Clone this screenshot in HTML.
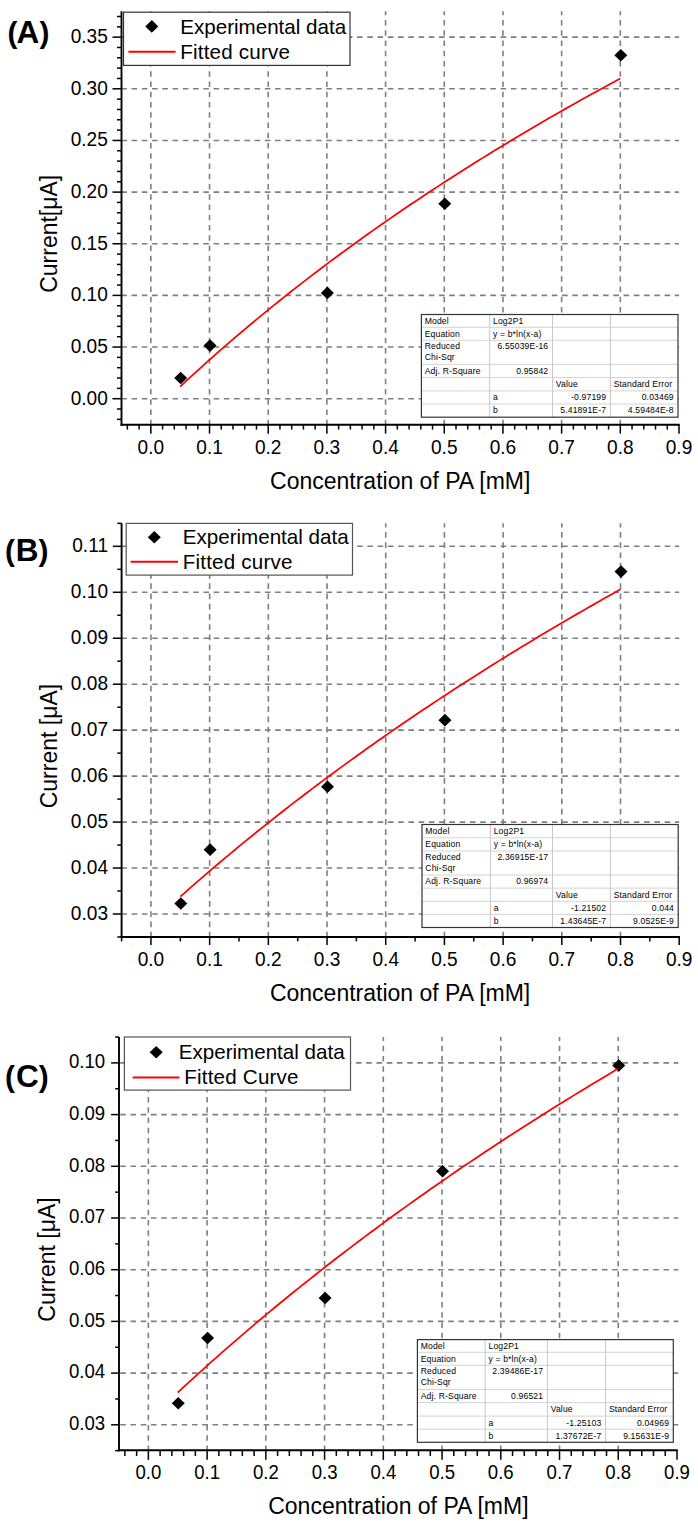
<!DOCTYPE html>
<html><head><meta charset="utf-8"><style>
html,body{margin:0;padding:0;background:#fff;}
svg{display:block;}
svg text{font-family:"Liberation Sans", sans-serif;fill:#000;}
</style></head><body>
<svg width="698" height="1524" viewBox="0 0 698 1524">
<rect width="698" height="1524" fill="#fff"/>
<line x1="150.84" y1="11.32" x2="150.84" y2="424.75" stroke="#7f7f7f" stroke-width="1.6" stroke-dasharray="5.6 4.65" stroke-dashoffset="1.55"/>
<line x1="209.53" y1="11.32" x2="209.53" y2="424.75" stroke="#7f7f7f" stroke-width="1.6" stroke-dasharray="5.6 4.65" stroke-dashoffset="1.55"/>
<line x1="268.21" y1="11.32" x2="268.21" y2="424.75" stroke="#7f7f7f" stroke-width="1.6" stroke-dasharray="5.6 4.65" stroke-dashoffset="1.55"/>
<line x1="326.89" y1="11.32" x2="326.89" y2="424.75" stroke="#7f7f7f" stroke-width="1.6" stroke-dasharray="5.6 4.65" stroke-dashoffset="1.55"/>
<line x1="385.58" y1="11.32" x2="385.58" y2="424.75" stroke="#7f7f7f" stroke-width="1.6" stroke-dasharray="5.6 4.65" stroke-dashoffset="1.55"/>
<line x1="444.26" y1="11.32" x2="444.26" y2="424.75" stroke="#7f7f7f" stroke-width="1.6" stroke-dasharray="5.6 4.65" stroke-dashoffset="1.55"/>
<line x1="502.95" y1="11.32" x2="502.95" y2="424.75" stroke="#7f7f7f" stroke-width="1.6" stroke-dasharray="5.6 4.65" stroke-dashoffset="1.55"/>
<line x1="561.63" y1="11.32" x2="561.63" y2="424.75" stroke="#7f7f7f" stroke-width="1.6" stroke-dasharray="5.6 4.65" stroke-dashoffset="1.55"/>
<line x1="620.31" y1="11.32" x2="620.31" y2="424.75" stroke="#7f7f7f" stroke-width="1.6" stroke-dasharray="5.6 4.65" stroke-dashoffset="1.55"/>
<line x1="121.3" y1="398.7" x2="679" y2="398.7" stroke="#7f7f7f" stroke-width="1.6" stroke-dasharray="5.6 4.65"/>
<line x1="121.3" y1="347.05" x2="679" y2="347.05" stroke="#7f7f7f" stroke-width="1.6" stroke-dasharray="5.6 4.65"/>
<line x1="121.3" y1="295.4" x2="679" y2="295.4" stroke="#7f7f7f" stroke-width="1.6" stroke-dasharray="5.6 4.65"/>
<line x1="121.3" y1="243.75" x2="679" y2="243.75" stroke="#7f7f7f" stroke-width="1.6" stroke-dasharray="5.6 4.65"/>
<line x1="121.3" y1="192.1" x2="679" y2="192.1" stroke="#7f7f7f" stroke-width="1.6" stroke-dasharray="5.6 4.65"/>
<line x1="121.3" y1="140.45" x2="679" y2="140.45" stroke="#7f7f7f" stroke-width="1.6" stroke-dasharray="5.6 4.65"/>
<line x1="121.3" y1="88.8" x2="679" y2="88.8" stroke="#7f7f7f" stroke-width="1.6" stroke-dasharray="5.6 4.65"/>
<line x1="121.3" y1="37.15" x2="679" y2="37.15" stroke="#7f7f7f" stroke-width="1.6" stroke-dasharray="5.6 4.65"/>
<line x1="121.5" y1="11.32" x2="121.5" y2="425.7" stroke="#000" stroke-width="1.9"/>
<line x1="120.55" y1="424.75" x2="679.75" y2="424.75" stroke="#000" stroke-width="1.9"/>
<line x1="112.5" y1="398.7" x2="121.5" y2="398.7" stroke="#000" stroke-width="1.5"/>
<line x1="112.5" y1="347.05" x2="121.5" y2="347.05" stroke="#000" stroke-width="1.5"/>
<line x1="112.5" y1="295.4" x2="121.5" y2="295.4" stroke="#000" stroke-width="1.5"/>
<line x1="112.5" y1="243.75" x2="121.5" y2="243.75" stroke="#000" stroke-width="1.5"/>
<line x1="112.5" y1="192.1" x2="121.5" y2="192.1" stroke="#000" stroke-width="1.5"/>
<line x1="112.5" y1="140.45" x2="121.5" y2="140.45" stroke="#000" stroke-width="1.5"/>
<line x1="112.5" y1="88.8" x2="121.5" y2="88.8" stroke="#000" stroke-width="1.5"/>
<line x1="112.5" y1="37.15" x2="121.5" y2="37.15" stroke="#000" stroke-width="1.5"/>
<line x1="117" y1="419.36" x2="121.5" y2="419.36" stroke="#000" stroke-width="1.5"/>
<line x1="117" y1="409.03" x2="121.5" y2="409.03" stroke="#000" stroke-width="1.5"/>
<line x1="117" y1="388.37" x2="121.5" y2="388.37" stroke="#000" stroke-width="1.5"/>
<line x1="117" y1="378.04" x2="121.5" y2="378.04" stroke="#000" stroke-width="1.5"/>
<line x1="117" y1="367.71" x2="121.5" y2="367.71" stroke="#000" stroke-width="1.5"/>
<line x1="117" y1="357.38" x2="121.5" y2="357.38" stroke="#000" stroke-width="1.5"/>
<line x1="117" y1="336.72" x2="121.5" y2="336.72" stroke="#000" stroke-width="1.5"/>
<line x1="117" y1="326.39" x2="121.5" y2="326.39" stroke="#000" stroke-width="1.5"/>
<line x1="117" y1="316.06" x2="121.5" y2="316.06" stroke="#000" stroke-width="1.5"/>
<line x1="117" y1="305.73" x2="121.5" y2="305.73" stroke="#000" stroke-width="1.5"/>
<line x1="117" y1="285.07" x2="121.5" y2="285.07" stroke="#000" stroke-width="1.5"/>
<line x1="117" y1="274.74" x2="121.5" y2="274.74" stroke="#000" stroke-width="1.5"/>
<line x1="117" y1="264.41" x2="121.5" y2="264.41" stroke="#000" stroke-width="1.5"/>
<line x1="117" y1="254.08" x2="121.5" y2="254.08" stroke="#000" stroke-width="1.5"/>
<line x1="117" y1="233.42" x2="121.5" y2="233.42" stroke="#000" stroke-width="1.5"/>
<line x1="117" y1="223.09" x2="121.5" y2="223.09" stroke="#000" stroke-width="1.5"/>
<line x1="117" y1="212.76" x2="121.5" y2="212.76" stroke="#000" stroke-width="1.5"/>
<line x1="117" y1="202.43" x2="121.5" y2="202.43" stroke="#000" stroke-width="1.5"/>
<line x1="117" y1="181.77" x2="121.5" y2="181.77" stroke="#000" stroke-width="1.5"/>
<line x1="117" y1="171.44" x2="121.5" y2="171.44" stroke="#000" stroke-width="1.5"/>
<line x1="117" y1="161.11" x2="121.5" y2="161.11" stroke="#000" stroke-width="1.5"/>
<line x1="117" y1="150.78" x2="121.5" y2="150.78" stroke="#000" stroke-width="1.5"/>
<line x1="117" y1="130.12" x2="121.5" y2="130.12" stroke="#000" stroke-width="1.5"/>
<line x1="117" y1="119.79" x2="121.5" y2="119.79" stroke="#000" stroke-width="1.5"/>
<line x1="117" y1="109.46" x2="121.5" y2="109.46" stroke="#000" stroke-width="1.5"/>
<line x1="117" y1="99.13" x2="121.5" y2="99.13" stroke="#000" stroke-width="1.5"/>
<line x1="117" y1="78.47" x2="121.5" y2="78.47" stroke="#000" stroke-width="1.5"/>
<line x1="117" y1="68.14" x2="121.5" y2="68.14" stroke="#000" stroke-width="1.5"/>
<line x1="117" y1="57.81" x2="121.5" y2="57.81" stroke="#000" stroke-width="1.5"/>
<line x1="117" y1="47.48" x2="121.5" y2="47.48" stroke="#000" stroke-width="1.5"/>
<line x1="117" y1="26.82" x2="121.5" y2="26.82" stroke="#000" stroke-width="1.5"/>
<line x1="117" y1="16.49" x2="121.5" y2="16.49" stroke="#000" stroke-width="1.5"/>
<line x1="150.84" y1="424.75" x2="150.84" y2="433.65" stroke="#000" stroke-width="1.5"/>
<line x1="209.53" y1="424.75" x2="209.53" y2="433.65" stroke="#000" stroke-width="1.5"/>
<line x1="268.21" y1="424.75" x2="268.21" y2="433.65" stroke="#000" stroke-width="1.5"/>
<line x1="326.89" y1="424.75" x2="326.89" y2="433.65" stroke="#000" stroke-width="1.5"/>
<line x1="385.58" y1="424.75" x2="385.58" y2="433.65" stroke="#000" stroke-width="1.5"/>
<line x1="444.26" y1="424.75" x2="444.26" y2="433.65" stroke="#000" stroke-width="1.5"/>
<line x1="502.95" y1="424.75" x2="502.95" y2="433.65" stroke="#000" stroke-width="1.5"/>
<line x1="561.63" y1="424.75" x2="561.63" y2="433.65" stroke="#000" stroke-width="1.5"/>
<line x1="620.31" y1="424.75" x2="620.31" y2="433.65" stroke="#000" stroke-width="1.5"/>
<line x1="679" y1="424.75" x2="679" y2="433.65" stroke="#000" stroke-width="1.5"/>
<line x1="127.37" y1="424.75" x2="127.37" y2="429.55" stroke="#000" stroke-width="1.5"/>
<line x1="139.11" y1="424.75" x2="139.11" y2="429.55" stroke="#000" stroke-width="1.5"/>
<line x1="162.58" y1="424.75" x2="162.58" y2="429.55" stroke="#000" stroke-width="1.5"/>
<line x1="174.32" y1="424.75" x2="174.32" y2="429.55" stroke="#000" stroke-width="1.5"/>
<line x1="186.05" y1="424.75" x2="186.05" y2="429.55" stroke="#000" stroke-width="1.5"/>
<line x1="197.79" y1="424.75" x2="197.79" y2="429.55" stroke="#000" stroke-width="1.5"/>
<line x1="221.26" y1="424.75" x2="221.26" y2="429.55" stroke="#000" stroke-width="1.5"/>
<line x1="233" y1="424.75" x2="233" y2="429.55" stroke="#000" stroke-width="1.5"/>
<line x1="244.74" y1="424.75" x2="244.74" y2="429.55" stroke="#000" stroke-width="1.5"/>
<line x1="256.47" y1="424.75" x2="256.47" y2="429.55" stroke="#000" stroke-width="1.5"/>
<line x1="279.95" y1="424.75" x2="279.95" y2="429.55" stroke="#000" stroke-width="1.5"/>
<line x1="291.68" y1="424.75" x2="291.68" y2="429.55" stroke="#000" stroke-width="1.5"/>
<line x1="303.42" y1="424.75" x2="303.42" y2="429.55" stroke="#000" stroke-width="1.5"/>
<line x1="315.16" y1="424.75" x2="315.16" y2="429.55" stroke="#000" stroke-width="1.5"/>
<line x1="338.63" y1="424.75" x2="338.63" y2="429.55" stroke="#000" stroke-width="1.5"/>
<line x1="350.37" y1="424.75" x2="350.37" y2="429.55" stroke="#000" stroke-width="1.5"/>
<line x1="362.1" y1="424.75" x2="362.1" y2="429.55" stroke="#000" stroke-width="1.5"/>
<line x1="373.84" y1="424.75" x2="373.84" y2="429.55" stroke="#000" stroke-width="1.5"/>
<line x1="397.31" y1="424.75" x2="397.31" y2="429.55" stroke="#000" stroke-width="1.5"/>
<line x1="409.05" y1="424.75" x2="409.05" y2="429.55" stroke="#000" stroke-width="1.5"/>
<line x1="420.79" y1="424.75" x2="420.79" y2="429.55" stroke="#000" stroke-width="1.5"/>
<line x1="432.53" y1="424.75" x2="432.53" y2="429.55" stroke="#000" stroke-width="1.5"/>
<line x1="456" y1="424.75" x2="456" y2="429.55" stroke="#000" stroke-width="1.5"/>
<line x1="467.74" y1="424.75" x2="467.74" y2="429.55" stroke="#000" stroke-width="1.5"/>
<line x1="479.47" y1="424.75" x2="479.47" y2="429.55" stroke="#000" stroke-width="1.5"/>
<line x1="491.21" y1="424.75" x2="491.21" y2="429.55" stroke="#000" stroke-width="1.5"/>
<line x1="514.68" y1="424.75" x2="514.68" y2="429.55" stroke="#000" stroke-width="1.5"/>
<line x1="526.42" y1="424.75" x2="526.42" y2="429.55" stroke="#000" stroke-width="1.5"/>
<line x1="538.16" y1="424.75" x2="538.16" y2="429.55" stroke="#000" stroke-width="1.5"/>
<line x1="549.89" y1="424.75" x2="549.89" y2="429.55" stroke="#000" stroke-width="1.5"/>
<line x1="573.37" y1="424.75" x2="573.37" y2="429.55" stroke="#000" stroke-width="1.5"/>
<line x1="585.1" y1="424.75" x2="585.1" y2="429.55" stroke="#000" stroke-width="1.5"/>
<line x1="596.84" y1="424.75" x2="596.84" y2="429.55" stroke="#000" stroke-width="1.5"/>
<line x1="608.58" y1="424.75" x2="608.58" y2="429.55" stroke="#000" stroke-width="1.5"/>
<line x1="632.05" y1="424.75" x2="632.05" y2="429.55" stroke="#000" stroke-width="1.5"/>
<line x1="643.79" y1="424.75" x2="643.79" y2="429.55" stroke="#000" stroke-width="1.5"/>
<line x1="655.52" y1="424.75" x2="655.52" y2="429.55" stroke="#000" stroke-width="1.5"/>
<line x1="667.26" y1="424.75" x2="667.26" y2="429.55" stroke="#000" stroke-width="1.5"/>
<text transform="translate(107.8 404.6) scale(1 1.05)" font-size="19.1" text-anchor="end">0.00</text>
<text transform="translate(107.8 352.95) scale(1 1.05)" font-size="19.1" text-anchor="end">0.05</text>
<text transform="translate(107.8 301.3) scale(1 1.05)" font-size="19.1" text-anchor="end">0.10</text>
<text transform="translate(107.8 249.65) scale(1 1.05)" font-size="19.1" text-anchor="end">0.15</text>
<text transform="translate(107.8 198) scale(1 1.05)" font-size="19.1" text-anchor="end">0.20</text>
<text transform="translate(107.8 146.35) scale(1 1.05)" font-size="19.1" text-anchor="end">0.25</text>
<text transform="translate(107.8 94.7) scale(1 1.05)" font-size="19.1" text-anchor="end">0.30</text>
<text transform="translate(107.8 43.05) scale(1 1.05)" font-size="19.1" text-anchor="end">0.35</text>
<text transform="translate(150.84 453.9) scale(1 1.05)" font-size="19.1" text-anchor="middle">0.0</text>
<text transform="translate(209.53 453.9) scale(1 1.05)" font-size="19.1" text-anchor="middle">0.1</text>
<text transform="translate(268.21 453.9) scale(1 1.05)" font-size="19.1" text-anchor="middle">0.2</text>
<text transform="translate(326.89 453.9) scale(1 1.05)" font-size="19.1" text-anchor="middle">0.3</text>
<text transform="translate(385.58 453.9) scale(1 1.05)" font-size="19.1" text-anchor="middle">0.4</text>
<text transform="translate(444.26 453.9) scale(1 1.05)" font-size="19.1" text-anchor="middle">0.5</text>
<text transform="translate(502.95 453.9) scale(1 1.05)" font-size="19.1" text-anchor="middle">0.6</text>
<text transform="translate(561.63 453.9) scale(1 1.05)" font-size="19.1" text-anchor="middle">0.7</text>
<text transform="translate(620.31 453.9) scale(1 1.05)" font-size="19.1" text-anchor="middle">0.8</text>
<text transform="translate(679 453.9) scale(1 1.05)" font-size="19.1" text-anchor="middle">0.9</text>
<text x="400.2" y="488.7" font-size="23.0" text-anchor="middle">Concentration of PA [mM]</text>
<text transform="translate(56.8 233.8) rotate(-90)" font-size="23.0" text-anchor="middle">Current[&#956;A]</text>
<text x="7.5" y="43.3" font-size="29.8" font-weight="bold">(<tspan font-size="31.5" dx="-1.0">A</tspan><tspan dx="0.4">)</tspan></text>
<rect x="123.5" y="12.2" width="226.5" height="53.2" fill="#fff" stroke="#333" stroke-width="1.2"/>
<polygon points="151.8,20.1 158.3,26.4 151.8,32.7 145.3,26.4" fill="#000"/>
<line x1="128.4" y1="51.7" x2="175.6" y2="51.7" stroke="#f00" stroke-width="2"/>
<text x="180.2" y="33.6" font-size="20.6">Experimental data</text>
<text x="180.2" y="58.6" font-size="20.6" letter-spacing="0.2">Fitted curve</text>
<rect x="421.4" y="314.5" width="256.6" height="102.7" fill="#fff"/>
<line x1="421.4" y1="327.3" x2="678" y2="327.3" stroke="#d4d4d4" stroke-width="1"/>
<line x1="421.4" y1="340.3" x2="678" y2="340.3" stroke="#d4d4d4" stroke-width="1"/>
<line x1="421.4" y1="364.4" x2="678" y2="364.4" stroke="#d4d4d4" stroke-width="1"/>
<line x1="421.4" y1="377.5" x2="678" y2="377.5" stroke="#d4d4d4" stroke-width="1"/>
<line x1="421.4" y1="390.9" x2="678" y2="390.9" stroke="#d4d4d4" stroke-width="1"/>
<line x1="421.4" y1="404" x2="678" y2="404" stroke="#d4d4d4" stroke-width="1"/>
<line x1="489.7" y1="314.5" x2="489.7" y2="417.2" stroke="#c8c8c8" stroke-width="1"/>
<line x1="552.5" y1="314.5" x2="552.5" y2="417.2" stroke="#c8c8c8" stroke-width="1"/>
<line x1="610.4" y1="314.5" x2="610.4" y2="417.2" stroke="#c8c8c8" stroke-width="1"/>
<rect x="421.4" y="314.5" width="256.6" height="102.7" fill="none" stroke="#333" stroke-width="1.2"/>
<text x="424.7" y="323.9" font-size="8.6" fill="#383838" letter-spacing="0.15">Model</text>
<text x="493" y="323.9" font-size="8.6" fill="#383838" letter-spacing="0.15">Log2P1</text>
<text x="424.7" y="336.7" font-size="8.6" fill="#383838" letter-spacing="0.15">Equation</text>
<text x="493" y="336.7" font-size="8.6" fill="#383838" letter-spacing="0.15">y = b*ln(x-a)</text>
<text x="424.7" y="349.4" font-size="8.6" fill="#383838" letter-spacing="0.15">Reduced</text>
<text x="424.7" y="360.4" font-size="8.6" fill="#383838" letter-spacing="0.15">Chi-Sqr</text>
<text x="548.3" y="349.4" font-size="8.6" fill="#383838" letter-spacing="0.15" text-anchor="end">6.55039E-16</text>
<text x="424.7" y="373.8" font-size="8.6" fill="#383838" letter-spacing="0.15">Adj. R-Square</text>
<text x="548.3" y="373.8" font-size="8.6" fill="#383838" letter-spacing="0.15" text-anchor="end">0.95842</text>
<text x="555.8" y="386.9" font-size="8.6" fill="#383838" letter-spacing="0.15">Value</text>
<text x="613.7" y="386.9" font-size="8.6" fill="#383838" letter-spacing="0.15">Standard Error</text>
<text x="493" y="400.3" font-size="8.6" fill="#383838" letter-spacing="0.15">a</text>
<text x="606.2" y="400.3" font-size="8.6" fill="#383838" letter-spacing="0.15" text-anchor="end">-0.97199</text>
<text x="673.8" y="400.3" font-size="8.6" fill="#383838" letter-spacing="0.15" text-anchor="end">0.03469</text>
<text x="493" y="413.4" font-size="8.6" fill="#383838" letter-spacing="0.15">b</text>
<text x="606.2" y="413.4" font-size="8.6" fill="#383838" letter-spacing="0.15" text-anchor="end">5.41891E-7</text>
<text x="673.8" y="413.4" font-size="8.6" fill="#383838" letter-spacing="0.15" text-anchor="end">4.59484E-8</text>
<polygon points="180.68,371.74 187.18,378.04 180.68,384.34 174.18,378.04" fill="#000"/>
<polygon points="210.03,339.3 216.53,345.6 210.03,351.9 203.53,345.6" fill="#000"/>
<polygon points="327.39,286.62 333.89,292.92 327.39,299.22 320.89,292.92" fill="#000"/>
<polygon points="444.76,197.47 451.26,203.77 444.76,210.07 438.26,203.77" fill="#000"/>
<polygon points="620.81,48.93 627.31,55.23 620.81,61.53 614.31,55.23" fill="#000"/>
<polyline points="180.18,386.52 185.69,381.41 191.19,376.35 196.69,371.33 202.19,366.35 207.69,361.42 213.19,356.53 218.7,351.69 224.2,346.88 229.7,342.12 235.2,337.39 240.7,332.71 246.2,328.07 251.71,323.46 257.21,318.89 262.71,314.36 268.21,309.86 273.71,305.4 279.21,300.98 284.71,296.59 290.22,292.23 295.72,287.91 301.22,283.62 306.72,279.36 312.22,275.14 317.72,270.95 323.23,266.79 328.73,262.65 334.23,258.55 339.73,254.48 345.23,250.44 350.73,246.43 356.24,242.45 361.74,238.49 367.24,234.56 372.74,230.66 378.24,226.79 383.74,222.94 389.25,219.12 394.75,215.33 400.25,211.56 405.75,207.81 411.25,204.09 416.75,200.4 422.26,196.73 427.76,193.08 433.26,189.46 438.76,185.86 444.26,182.28 449.76,178.73 455.27,175.2 460.77,171.69 466.27,168.2 471.77,164.74 477.27,161.29 482.77,157.87 488.28,154.46 493.78,151.08 499.28,147.72 504.78,144.38 510.28,141.06 515.78,137.75 521.28,134.47 526.79,131.21 532.29,127.96 537.79,124.74 543.29,121.53 548.79,118.34 554.29,115.17 559.8,112.02 565.3,108.88 570.8,105.76 576.3,102.66 581.8,99.58 587.3,96.51 592.81,93.46 598.31,90.43 603.81,87.41 609.31,84.41 614.81,81.42 620.31,78.45" fill="none" stroke="#f00" stroke-width="1.75" stroke-linejoin="round"/>
<line x1="150.95" y1="523.34" x2="150.95" y2="936.98" stroke="#7f7f7f" stroke-width="1.6" stroke-dasharray="5.6 4.65" stroke-dashoffset="1.55"/>
<line x1="209.64" y1="523.34" x2="209.64" y2="936.98" stroke="#7f7f7f" stroke-width="1.6" stroke-dasharray="5.6 4.65" stroke-dashoffset="1.55"/>
<line x1="268.34" y1="523.34" x2="268.34" y2="936.98" stroke="#7f7f7f" stroke-width="1.6" stroke-dasharray="5.6 4.65" stroke-dashoffset="1.55"/>
<line x1="327.03" y1="523.34" x2="327.03" y2="936.98" stroke="#7f7f7f" stroke-width="1.6" stroke-dasharray="5.6 4.65" stroke-dashoffset="1.55"/>
<line x1="385.73" y1="523.34" x2="385.73" y2="936.98" stroke="#7f7f7f" stroke-width="1.6" stroke-dasharray="5.6 4.65" stroke-dashoffset="1.55"/>
<line x1="444.42" y1="523.34" x2="444.42" y2="936.98" stroke="#7f7f7f" stroke-width="1.6" stroke-dasharray="5.6 4.65" stroke-dashoffset="1.55"/>
<line x1="503.12" y1="523.34" x2="503.12" y2="936.98" stroke="#7f7f7f" stroke-width="1.6" stroke-dasharray="5.6 4.65" stroke-dashoffset="1.55"/>
<line x1="561.81" y1="523.34" x2="561.81" y2="936.98" stroke="#7f7f7f" stroke-width="1.6" stroke-dasharray="5.6 4.65" stroke-dashoffset="1.55"/>
<line x1="620.51" y1="523.34" x2="620.51" y2="936.98" stroke="#7f7f7f" stroke-width="1.6" stroke-dasharray="5.6 4.65" stroke-dashoffset="1.55"/>
<line x1="121.4" y1="914" x2="679.2" y2="914" stroke="#7f7f7f" stroke-width="1.6" stroke-dasharray="5.6 4.65"/>
<line x1="121.4" y1="868.04" x2="679.2" y2="868.04" stroke="#7f7f7f" stroke-width="1.6" stroke-dasharray="5.6 4.65"/>
<line x1="121.4" y1="822.08" x2="679.2" y2="822.08" stroke="#7f7f7f" stroke-width="1.6" stroke-dasharray="5.6 4.65"/>
<line x1="121.4" y1="776.12" x2="679.2" y2="776.12" stroke="#7f7f7f" stroke-width="1.6" stroke-dasharray="5.6 4.65"/>
<line x1="121.4" y1="730.16" x2="679.2" y2="730.16" stroke="#7f7f7f" stroke-width="1.6" stroke-dasharray="5.6 4.65"/>
<line x1="121.4" y1="684.2" x2="679.2" y2="684.2" stroke="#7f7f7f" stroke-width="1.6" stroke-dasharray="5.6 4.65"/>
<line x1="121.4" y1="638.24" x2="679.2" y2="638.24" stroke="#7f7f7f" stroke-width="1.6" stroke-dasharray="5.6 4.65"/>
<line x1="121.4" y1="592.28" x2="679.2" y2="592.28" stroke="#7f7f7f" stroke-width="1.6" stroke-dasharray="5.6 4.65"/>
<line x1="121.4" y1="546.32" x2="679.2" y2="546.32" stroke="#7f7f7f" stroke-width="1.6" stroke-dasharray="5.6 4.65"/>
<line x1="121.6" y1="523.34" x2="121.6" y2="937.93" stroke="#000" stroke-width="1.9"/>
<line x1="120.65" y1="936.98" x2="679.95" y2="936.98" stroke="#000" stroke-width="1.9"/>
<line x1="112.8" y1="914" x2="121.6" y2="914" stroke="#000" stroke-width="1.5"/>
<line x1="112.8" y1="868.04" x2="121.6" y2="868.04" stroke="#000" stroke-width="1.5"/>
<line x1="112.8" y1="822.08" x2="121.6" y2="822.08" stroke="#000" stroke-width="1.5"/>
<line x1="112.8" y1="776.12" x2="121.6" y2="776.12" stroke="#000" stroke-width="1.5"/>
<line x1="112.8" y1="730.16" x2="121.6" y2="730.16" stroke="#000" stroke-width="1.5"/>
<line x1="112.8" y1="684.2" x2="121.6" y2="684.2" stroke="#000" stroke-width="1.5"/>
<line x1="112.8" y1="638.24" x2="121.6" y2="638.24" stroke="#000" stroke-width="1.5"/>
<line x1="112.8" y1="592.28" x2="121.6" y2="592.28" stroke="#000" stroke-width="1.5"/>
<line x1="112.8" y1="546.32" x2="121.6" y2="546.32" stroke="#000" stroke-width="1.5"/>
<line x1="117.3" y1="936.98" x2="121.6" y2="936.98" stroke="#000" stroke-width="1.5"/>
<line x1="117.3" y1="891.02" x2="121.6" y2="891.02" stroke="#000" stroke-width="1.5"/>
<line x1="117.3" y1="845.06" x2="121.6" y2="845.06" stroke="#000" stroke-width="1.5"/>
<line x1="117.3" y1="799.1" x2="121.6" y2="799.1" stroke="#000" stroke-width="1.5"/>
<line x1="117.3" y1="753.14" x2="121.6" y2="753.14" stroke="#000" stroke-width="1.5"/>
<line x1="117.3" y1="707.18" x2="121.6" y2="707.18" stroke="#000" stroke-width="1.5"/>
<line x1="117.3" y1="661.22" x2="121.6" y2="661.22" stroke="#000" stroke-width="1.5"/>
<line x1="117.3" y1="615.26" x2="121.6" y2="615.26" stroke="#000" stroke-width="1.5"/>
<line x1="117.3" y1="569.3" x2="121.6" y2="569.3" stroke="#000" stroke-width="1.5"/>
<line x1="117.3" y1="523.34" x2="121.6" y2="523.34" stroke="#000" stroke-width="1.5"/>
<line x1="150.95" y1="936.98" x2="150.95" y2="944.98" stroke="#000" stroke-width="1.5"/>
<line x1="209.64" y1="936.98" x2="209.64" y2="944.98" stroke="#000" stroke-width="1.5"/>
<line x1="268.34" y1="936.98" x2="268.34" y2="944.98" stroke="#000" stroke-width="1.5"/>
<line x1="327.03" y1="936.98" x2="327.03" y2="944.98" stroke="#000" stroke-width="1.5"/>
<line x1="385.73" y1="936.98" x2="385.73" y2="944.98" stroke="#000" stroke-width="1.5"/>
<line x1="444.42" y1="936.98" x2="444.42" y2="944.98" stroke="#000" stroke-width="1.5"/>
<line x1="503.12" y1="936.98" x2="503.12" y2="944.98" stroke="#000" stroke-width="1.5"/>
<line x1="561.81" y1="936.98" x2="561.81" y2="944.98" stroke="#000" stroke-width="1.5"/>
<line x1="620.51" y1="936.98" x2="620.51" y2="944.98" stroke="#000" stroke-width="1.5"/>
<line x1="679.2" y1="936.98" x2="679.2" y2="944.98" stroke="#000" stroke-width="1.5"/>
<line x1="121.6" y1="936.98" x2="121.6" y2="941.38" stroke="#000" stroke-width="1.5"/>
<line x1="180.3" y1="936.98" x2="180.3" y2="941.38" stroke="#000" stroke-width="1.5"/>
<line x1="238.99" y1="936.98" x2="238.99" y2="941.38" stroke="#000" stroke-width="1.5"/>
<line x1="297.69" y1="936.98" x2="297.69" y2="941.38" stroke="#000" stroke-width="1.5"/>
<line x1="356.38" y1="936.98" x2="356.38" y2="941.38" stroke="#000" stroke-width="1.5"/>
<line x1="415.08" y1="936.98" x2="415.08" y2="941.38" stroke="#000" stroke-width="1.5"/>
<line x1="473.77" y1="936.98" x2="473.77" y2="941.38" stroke="#000" stroke-width="1.5"/>
<line x1="532.47" y1="936.98" x2="532.47" y2="941.38" stroke="#000" stroke-width="1.5"/>
<line x1="591.16" y1="936.98" x2="591.16" y2="941.38" stroke="#000" stroke-width="1.5"/>
<line x1="649.86" y1="936.98" x2="649.86" y2="941.38" stroke="#000" stroke-width="1.5"/>
<text transform="translate(108 919.7) scale(1 1.05)" font-size="19.1" text-anchor="end">0.03</text>
<text transform="translate(108 873.74) scale(1 1.05)" font-size="19.1" text-anchor="end">0.04</text>
<text transform="translate(108 827.78) scale(1 1.05)" font-size="19.1" text-anchor="end">0.05</text>
<text transform="translate(108 781.82) scale(1 1.05)" font-size="19.1" text-anchor="end">0.06</text>
<text transform="translate(108 735.86) scale(1 1.05)" font-size="19.1" text-anchor="end">0.07</text>
<text transform="translate(108 689.9) scale(1 1.05)" font-size="19.1" text-anchor="end">0.08</text>
<text transform="translate(108 643.94) scale(1 1.05)" font-size="19.1" text-anchor="end">0.09</text>
<text transform="translate(108 597.98) scale(1 1.05)" font-size="19.1" text-anchor="end">0.10</text>
<text transform="translate(108 552.02) scale(1 1.05)" font-size="19.1" text-anchor="end">0.11</text>
<text transform="translate(150.95 965.8) scale(1 1.05)" font-size="19.1" text-anchor="middle">0.0</text>
<text transform="translate(209.64 965.8) scale(1 1.05)" font-size="19.1" text-anchor="middle">0.1</text>
<text transform="translate(268.34 965.8) scale(1 1.05)" font-size="19.1" text-anchor="middle">0.2</text>
<text transform="translate(327.03 965.8) scale(1 1.05)" font-size="19.1" text-anchor="middle">0.3</text>
<text transform="translate(385.73 965.8) scale(1 1.05)" font-size="19.1" text-anchor="middle">0.4</text>
<text transform="translate(444.42 965.8) scale(1 1.05)" font-size="19.1" text-anchor="middle">0.5</text>
<text transform="translate(503.12 965.8) scale(1 1.05)" font-size="19.1" text-anchor="middle">0.6</text>
<text transform="translate(561.81 965.8) scale(1 1.05)" font-size="19.1" text-anchor="middle">0.7</text>
<text transform="translate(620.51 965.8) scale(1 1.05)" font-size="19.1" text-anchor="middle">0.8</text>
<text transform="translate(679.2 965.8) scale(1 1.05)" font-size="19.1" text-anchor="middle">0.9</text>
<text x="400.1" y="1001.1" font-size="23.0" text-anchor="middle">Concentration of PA [mM]</text>
<text transform="translate(57.4 746.1) rotate(-90)" font-size="23.0" text-anchor="middle">Current [&#956;A]</text>
<text x="4.9" y="561" font-size="29.8" font-weight="bold">(<tspan font-size="31.5" dx="0.8">B</tspan><tspan dx="0">)</tspan></text>
<rect x="126.2" y="523.4" width="226.3" height="51.7" fill="#fff" stroke="#555" stroke-width="1.2"/>
<polygon points="154.3,530.9 160.8,537.2 154.3,543.5 147.8,537.2" fill="#000"/>
<line x1="130.6" y1="561.8" x2="178" y2="561.8" stroke="#f00" stroke-width="2"/>
<text x="182.7" y="543.7" font-size="20.6">Experimental data</text>
<text x="182.7" y="569" font-size="20.6" letter-spacing="0.2">Fitted curve</text>
<rect x="422" y="824.5" width="256.2" height="103" fill="#fff"/>
<line x1="422" y1="837.8" x2="678.2" y2="837.8" stroke="#d4d4d4" stroke-width="1"/>
<line x1="422" y1="851" x2="678.2" y2="851" stroke="#d4d4d4" stroke-width="1"/>
<line x1="422" y1="875" x2="678.2" y2="875" stroke="#d4d4d4" stroke-width="1"/>
<line x1="422" y1="888.1" x2="678.2" y2="888.1" stroke="#d4d4d4" stroke-width="1"/>
<line x1="422" y1="901.3" x2="678.2" y2="901.3" stroke="#d4d4d4" stroke-width="1"/>
<line x1="422" y1="914.4" x2="678.2" y2="914.4" stroke="#d4d4d4" stroke-width="1"/>
<line x1="490.4" y1="824.5" x2="490.4" y2="927.5" stroke="#c8c8c8" stroke-width="1"/>
<line x1="552.5" y1="824.5" x2="552.5" y2="927.5" stroke="#c8c8c8" stroke-width="1"/>
<line x1="610.4" y1="824.5" x2="610.4" y2="927.5" stroke="#c8c8c8" stroke-width="1"/>
<rect x="422" y="824.5" width="256.2" height="103" fill="none" stroke="#333" stroke-width="1.2"/>
<text x="425.3" y="833.9" font-size="8.6" fill="#383838" letter-spacing="0.15">Model</text>
<text x="493.7" y="833.9" font-size="8.6" fill="#383838" letter-spacing="0.15">Log2P1</text>
<text x="425.3" y="847.2" font-size="8.6" fill="#383838" letter-spacing="0.15">Equation</text>
<text x="493.7" y="847.2" font-size="8.6" fill="#383838" letter-spacing="0.15">y = b*ln(x-a)</text>
<text x="425.3" y="860.1" font-size="8.6" fill="#383838" letter-spacing="0.15">Reduced</text>
<text x="425.3" y="871.1" font-size="8.6" fill="#383838" letter-spacing="0.15">Chi-Sqr</text>
<text x="548.3" y="860.1" font-size="8.6" fill="#383838" letter-spacing="0.15" text-anchor="end">2.36915E-17</text>
<text x="425.3" y="884.4" font-size="8.6" fill="#383838" letter-spacing="0.15">Adj. R-Square</text>
<text x="548.3" y="884.4" font-size="8.6" fill="#383838" letter-spacing="0.15" text-anchor="end">0.96974</text>
<text x="555.8" y="897.5" font-size="8.6" fill="#383838" letter-spacing="0.15">Value</text>
<text x="613.7" y="897.5" font-size="8.6" fill="#383838" letter-spacing="0.15">Standard Error</text>
<text x="493.7" y="910.7" font-size="8.6" fill="#383838" letter-spacing="0.15">a</text>
<text x="606.2" y="910.7" font-size="8.6" fill="#383838" letter-spacing="0.15" text-anchor="end">-1.21502</text>
<text x="674" y="910.7" font-size="8.6" fill="#383838" letter-spacing="0.15" text-anchor="end">0.044</text>
<text x="493.7" y="923.8" font-size="8.6" fill="#383838" letter-spacing="0.15">b</text>
<text x="606.2" y="923.8" font-size="8.6" fill="#383838" letter-spacing="0.15" text-anchor="end">1.43645E-7</text>
<text x="674" y="923.8" font-size="8.6" fill="#383838" letter-spacing="0.15" text-anchor="end">9.0525E-9</text>
<polygon points="180.8,897.18 187.3,903.48 180.8,909.78 174.3,903.48" fill="#000"/>
<polygon points="210.14,843.36 216.64,849.66 210.14,855.96 203.64,849.66" fill="#000"/>
<polygon points="327.53,780.39 334.03,786.69 327.53,792.99 321.03,786.69" fill="#000"/>
<polygon points="444.92,713.84 451.42,720.14 444.92,726.44 438.42,720.14" fill="#000"/>
<polygon points="621.01,565.3 627.51,571.6 621.01,577.9 614.51,571.6" fill="#000"/>
<polyline points="180.3,896.68 185.8,891.8 191.3,886.96 196.8,882.16 202.31,877.39 207.81,872.66 213.31,867.95 218.81,863.29 224.32,858.65 229.82,854.05 235.32,849.48 240.82,844.94 246.33,840.43 251.83,835.95 257.33,831.5 262.83,827.09 268.34,822.7 273.84,818.34 279.34,814.01 284.85,809.71 290.35,805.43 295.85,801.18 301.35,796.96 306.86,792.77 312.36,788.6 317.86,784.46 323.36,780.35 328.87,776.26 334.37,772.19 339.87,768.15 345.37,764.14 350.88,760.15 356.38,756.18 361.88,752.24 367.39,748.32 372.89,744.42 378.39,740.55 383.89,736.7 389.4,732.87 394.9,729.06 400.4,725.28 405.9,721.51 411.41,717.77 416.91,714.05 422.41,710.35 427.91,706.67 433.42,703.01 438.92,699.37 444.42,695.76 449.93,692.16 455.43,688.58 460.93,685.02 466.43,681.48 471.94,677.95 477.44,674.45 482.94,670.97 488.44,667.5 493.95,664.05 499.45,660.62 504.95,657.21 510.45,653.81 515.96,650.43 521.46,647.07 526.96,643.73 532.47,640.4 537.97,637.09 543.47,633.8 548.97,630.52 554.48,627.26 559.98,624.01 565.48,620.78 570.98,617.57 576.49,614.37 581.99,611.19 587.49,608.02 592.99,604.87 598.5,601.73 604,598.61 609.5,595.5 615,592.41 620.51,589.33" fill="none" stroke="#f00" stroke-width="1.75" stroke-linejoin="round"/>
<line x1="148.37" y1="1037.05" x2="148.37" y2="1450.25" stroke="#7f7f7f" stroke-width="1.6" stroke-dasharray="5.6 4.65" stroke-dashoffset="1.55"/>
<line x1="207.11" y1="1037.05" x2="207.11" y2="1450.25" stroke="#7f7f7f" stroke-width="1.6" stroke-dasharray="5.6 4.65" stroke-dashoffset="1.55"/>
<line x1="265.84" y1="1037.05" x2="265.84" y2="1450.25" stroke="#7f7f7f" stroke-width="1.6" stroke-dasharray="5.6 4.65" stroke-dashoffset="1.55"/>
<line x1="324.58" y1="1037.05" x2="324.58" y2="1450.25" stroke="#7f7f7f" stroke-width="1.6" stroke-dasharray="5.6 4.65" stroke-dashoffset="1.55"/>
<line x1="383.32" y1="1037.05" x2="383.32" y2="1450.25" stroke="#7f7f7f" stroke-width="1.6" stroke-dasharray="5.6 4.65" stroke-dashoffset="1.55"/>
<line x1="442.05" y1="1037.05" x2="442.05" y2="1450.25" stroke="#7f7f7f" stroke-width="1.6" stroke-dasharray="5.6 4.65" stroke-dashoffset="1.55"/>
<line x1="500.79" y1="1037.05" x2="500.79" y2="1450.25" stroke="#7f7f7f" stroke-width="1.6" stroke-dasharray="5.6 4.65" stroke-dashoffset="1.55"/>
<line x1="559.53" y1="1037.05" x2="559.53" y2="1450.25" stroke="#7f7f7f" stroke-width="1.6" stroke-dasharray="5.6 4.65" stroke-dashoffset="1.55"/>
<line x1="618.26" y1="1037.05" x2="618.26" y2="1450.25" stroke="#7f7f7f" stroke-width="1.6" stroke-dasharray="5.6 4.65" stroke-dashoffset="1.55"/>
<line x1="120.2" y1="1424.8" x2="678.3" y2="1424.8" stroke="#7f7f7f" stroke-width="1.6" stroke-dasharray="5.6 4.65"/>
<line x1="120.2" y1="1373.1" x2="678.3" y2="1373.1" stroke="#7f7f7f" stroke-width="1.6" stroke-dasharray="5.6 4.65"/>
<line x1="120.2" y1="1321.4" x2="678.3" y2="1321.4" stroke="#7f7f7f" stroke-width="1.6" stroke-dasharray="5.6 4.65"/>
<line x1="120.2" y1="1269.7" x2="678.3" y2="1269.7" stroke="#7f7f7f" stroke-width="1.6" stroke-dasharray="5.6 4.65"/>
<line x1="120.2" y1="1218" x2="678.3" y2="1218" stroke="#7f7f7f" stroke-width="1.6" stroke-dasharray="5.6 4.65"/>
<line x1="120.2" y1="1166.3" x2="678.3" y2="1166.3" stroke="#7f7f7f" stroke-width="1.6" stroke-dasharray="5.6 4.65"/>
<line x1="120.2" y1="1114.6" x2="678.3" y2="1114.6" stroke="#7f7f7f" stroke-width="1.6" stroke-dasharray="5.6 4.65"/>
<line x1="120.2" y1="1062.9" x2="678.3" y2="1062.9" stroke="#7f7f7f" stroke-width="1.6" stroke-dasharray="5.6 4.65"/>
<line x1="119" y1="1037.05" x2="119" y2="1451.2" stroke="#000" stroke-width="1.9"/>
<line x1="118.05" y1="1450.25" x2="677.75" y2="1450.25" stroke="#000" stroke-width="1.9"/>
<line x1="111.1" y1="1424.8" x2="119" y2="1424.8" stroke="#000" stroke-width="1.5"/>
<line x1="111.1" y1="1373.1" x2="119" y2="1373.1" stroke="#000" stroke-width="1.5"/>
<line x1="111.1" y1="1321.4" x2="119" y2="1321.4" stroke="#000" stroke-width="1.5"/>
<line x1="111.1" y1="1269.7" x2="119" y2="1269.7" stroke="#000" stroke-width="1.5"/>
<line x1="111.1" y1="1218" x2="119" y2="1218" stroke="#000" stroke-width="1.5"/>
<line x1="111.1" y1="1166.3" x2="119" y2="1166.3" stroke="#000" stroke-width="1.5"/>
<line x1="111.1" y1="1114.6" x2="119" y2="1114.6" stroke="#000" stroke-width="1.5"/>
<line x1="111.1" y1="1062.9" x2="119" y2="1062.9" stroke="#000" stroke-width="1.5"/>
<line x1="115.2" y1="1450.65" x2="119" y2="1450.65" stroke="#000" stroke-width="1.5"/>
<line x1="115.2" y1="1398.95" x2="119" y2="1398.95" stroke="#000" stroke-width="1.5"/>
<line x1="115.2" y1="1347.25" x2="119" y2="1347.25" stroke="#000" stroke-width="1.5"/>
<line x1="115.2" y1="1295.55" x2="119" y2="1295.55" stroke="#000" stroke-width="1.5"/>
<line x1="115.2" y1="1243.85" x2="119" y2="1243.85" stroke="#000" stroke-width="1.5"/>
<line x1="115.2" y1="1192.15" x2="119" y2="1192.15" stroke="#000" stroke-width="1.5"/>
<line x1="115.2" y1="1140.45" x2="119" y2="1140.45" stroke="#000" stroke-width="1.5"/>
<line x1="115.2" y1="1088.75" x2="119" y2="1088.75" stroke="#000" stroke-width="1.5"/>
<line x1="115.2" y1="1037.05" x2="119" y2="1037.05" stroke="#000" stroke-width="1.5"/>
<line x1="148.37" y1="1450.25" x2="148.37" y2="1459.85" stroke="#000" stroke-width="1.5"/>
<line x1="207.11" y1="1450.25" x2="207.11" y2="1459.85" stroke="#000" stroke-width="1.5"/>
<line x1="265.84" y1="1450.25" x2="265.84" y2="1459.85" stroke="#000" stroke-width="1.5"/>
<line x1="324.58" y1="1450.25" x2="324.58" y2="1459.85" stroke="#000" stroke-width="1.5"/>
<line x1="383.32" y1="1450.25" x2="383.32" y2="1459.85" stroke="#000" stroke-width="1.5"/>
<line x1="442.05" y1="1450.25" x2="442.05" y2="1459.85" stroke="#000" stroke-width="1.5"/>
<line x1="500.79" y1="1450.25" x2="500.79" y2="1459.85" stroke="#000" stroke-width="1.5"/>
<line x1="559.53" y1="1450.25" x2="559.53" y2="1459.85" stroke="#000" stroke-width="1.5"/>
<line x1="618.26" y1="1450.25" x2="618.26" y2="1459.85" stroke="#000" stroke-width="1.5"/>
<line x1="677" y1="1450.25" x2="677" y2="1459.85" stroke="#000" stroke-width="1.5"/>
<line x1="124.87" y1="1450.25" x2="124.87" y2="1455.95" stroke="#000" stroke-width="1.5"/>
<line x1="136.62" y1="1450.25" x2="136.62" y2="1455.95" stroke="#000" stroke-width="1.5"/>
<line x1="160.12" y1="1450.25" x2="160.12" y2="1455.95" stroke="#000" stroke-width="1.5"/>
<line x1="171.86" y1="1450.25" x2="171.86" y2="1455.95" stroke="#000" stroke-width="1.5"/>
<line x1="183.61" y1="1450.25" x2="183.61" y2="1455.95" stroke="#000" stroke-width="1.5"/>
<line x1="195.36" y1="1450.25" x2="195.36" y2="1455.95" stroke="#000" stroke-width="1.5"/>
<line x1="218.85" y1="1450.25" x2="218.85" y2="1455.95" stroke="#000" stroke-width="1.5"/>
<line x1="230.6" y1="1450.25" x2="230.6" y2="1455.95" stroke="#000" stroke-width="1.5"/>
<line x1="242.35" y1="1450.25" x2="242.35" y2="1455.95" stroke="#000" stroke-width="1.5"/>
<line x1="254.1" y1="1450.25" x2="254.1" y2="1455.95" stroke="#000" stroke-width="1.5"/>
<line x1="277.59" y1="1450.25" x2="277.59" y2="1455.95" stroke="#000" stroke-width="1.5"/>
<line x1="289.34" y1="1450.25" x2="289.34" y2="1455.95" stroke="#000" stroke-width="1.5"/>
<line x1="301.08" y1="1450.25" x2="301.08" y2="1455.95" stroke="#000" stroke-width="1.5"/>
<line x1="312.83" y1="1450.25" x2="312.83" y2="1455.95" stroke="#000" stroke-width="1.5"/>
<line x1="336.33" y1="1450.25" x2="336.33" y2="1455.95" stroke="#000" stroke-width="1.5"/>
<line x1="348.07" y1="1450.25" x2="348.07" y2="1455.95" stroke="#000" stroke-width="1.5"/>
<line x1="359.82" y1="1450.25" x2="359.82" y2="1455.95" stroke="#000" stroke-width="1.5"/>
<line x1="371.57" y1="1450.25" x2="371.57" y2="1455.95" stroke="#000" stroke-width="1.5"/>
<line x1="395.06" y1="1450.25" x2="395.06" y2="1455.95" stroke="#000" stroke-width="1.5"/>
<line x1="406.81" y1="1450.25" x2="406.81" y2="1455.95" stroke="#000" stroke-width="1.5"/>
<line x1="418.56" y1="1450.25" x2="418.56" y2="1455.95" stroke="#000" stroke-width="1.5"/>
<line x1="430.31" y1="1450.25" x2="430.31" y2="1455.95" stroke="#000" stroke-width="1.5"/>
<line x1="453.8" y1="1450.25" x2="453.8" y2="1455.95" stroke="#000" stroke-width="1.5"/>
<line x1="465.55" y1="1450.25" x2="465.55" y2="1455.95" stroke="#000" stroke-width="1.5"/>
<line x1="477.3" y1="1450.25" x2="477.3" y2="1455.95" stroke="#000" stroke-width="1.5"/>
<line x1="489.04" y1="1450.25" x2="489.04" y2="1455.95" stroke="#000" stroke-width="1.5"/>
<line x1="512.54" y1="1450.25" x2="512.54" y2="1455.95" stroke="#000" stroke-width="1.5"/>
<line x1="524.29" y1="1450.25" x2="524.29" y2="1455.95" stroke="#000" stroke-width="1.5"/>
<line x1="536.03" y1="1450.25" x2="536.03" y2="1455.95" stroke="#000" stroke-width="1.5"/>
<line x1="547.78" y1="1450.25" x2="547.78" y2="1455.95" stroke="#000" stroke-width="1.5"/>
<line x1="571.27" y1="1450.25" x2="571.27" y2="1455.95" stroke="#000" stroke-width="1.5"/>
<line x1="583.02" y1="1450.25" x2="583.02" y2="1455.95" stroke="#000" stroke-width="1.5"/>
<line x1="594.77" y1="1450.25" x2="594.77" y2="1455.95" stroke="#000" stroke-width="1.5"/>
<line x1="606.52" y1="1450.25" x2="606.52" y2="1455.95" stroke="#000" stroke-width="1.5"/>
<line x1="630.01" y1="1450.25" x2="630.01" y2="1455.95" stroke="#000" stroke-width="1.5"/>
<line x1="641.76" y1="1450.25" x2="641.76" y2="1455.95" stroke="#000" stroke-width="1.5"/>
<line x1="653.51" y1="1450.25" x2="653.51" y2="1455.95" stroke="#000" stroke-width="1.5"/>
<line x1="665.25" y1="1450.25" x2="665.25" y2="1455.95" stroke="#000" stroke-width="1.5"/>
<text transform="translate(105.2 1430) scale(1 1.05)" font-size="18.6" text-anchor="end">0.03</text>
<text transform="translate(105.2 1378.3) scale(1 1.05)" font-size="18.6" text-anchor="end">0.04</text>
<text transform="translate(105.2 1326.6) scale(1 1.05)" font-size="18.6" text-anchor="end">0.05</text>
<text transform="translate(105.2 1274.9) scale(1 1.05)" font-size="18.6" text-anchor="end">0.06</text>
<text transform="translate(105.2 1223.2) scale(1 1.05)" font-size="18.6" text-anchor="end">0.07</text>
<text transform="translate(105.2 1171.5) scale(1 1.05)" font-size="18.6" text-anchor="end">0.08</text>
<text transform="translate(105.2 1119.8) scale(1 1.05)" font-size="18.6" text-anchor="end">0.09</text>
<text transform="translate(105.2 1068.1) scale(1 1.05)" font-size="18.6" text-anchor="end">0.10</text>
<text transform="translate(148.37 1479) scale(1 1.05)" font-size="18.6" text-anchor="middle">0.0</text>
<text transform="translate(207.11 1479) scale(1 1.05)" font-size="18.6" text-anchor="middle">0.1</text>
<text transform="translate(265.84 1479) scale(1 1.05)" font-size="18.6" text-anchor="middle">0.2</text>
<text transform="translate(324.58 1479) scale(1 1.05)" font-size="18.6" text-anchor="middle">0.3</text>
<text transform="translate(383.32 1479) scale(1 1.05)" font-size="18.6" text-anchor="middle">0.4</text>
<text transform="translate(442.05 1479) scale(1 1.05)" font-size="18.6" text-anchor="middle">0.5</text>
<text transform="translate(500.79 1479) scale(1 1.05)" font-size="18.6" text-anchor="middle">0.6</text>
<text transform="translate(559.53 1479) scale(1 1.05)" font-size="18.6" text-anchor="middle">0.7</text>
<text transform="translate(618.26 1479) scale(1 1.05)" font-size="18.6" text-anchor="middle">0.8</text>
<text transform="translate(677 1479) scale(1 1.05)" font-size="18.6" text-anchor="middle">0.9</text>
<text x="398.4" y="1513.9" font-size="23.0" text-anchor="middle">Concentration of PA [mM]</text>
<text transform="translate(55.3 1259.5) rotate(-90)" font-size="23.0" text-anchor="middle">Current [&#956;A]</text>
<text x="4.9" y="1087.1" font-size="29.8" font-weight="bold">(<tspan font-size="31.5" dx="1.1">C</tspan><tspan dx="0">)</tspan></text>
<rect x="124.4" y="1037" width="226.1" height="53.1" fill="#fff" stroke="#555" stroke-width="1.2"/>
<polygon points="156.2,1045.9 162.7,1052.2 156.2,1058.5 149.7,1052.2" fill="#000"/>
<line x1="132.7" y1="1077.4" x2="179.5" y2="1077.4" stroke="#f00" stroke-width="2"/>
<text x="178.7" y="1059.2" font-size="20.6">Experimental data</text>
<text x="184.2" y="1084.4" font-size="20.6" letter-spacing="0.2">Fitted Curve</text>
<rect x="417.4" y="1339.6" width="255.9" height="102.7" fill="#fff"/>
<line x1="417.4" y1="1352.3" x2="673.3" y2="1352.3" stroke="#d4d4d4" stroke-width="1"/>
<line x1="417.4" y1="1365.3" x2="673.3" y2="1365.3" stroke="#d4d4d4" stroke-width="1"/>
<line x1="417.4" y1="1389.5" x2="673.3" y2="1389.5" stroke="#d4d4d4" stroke-width="1"/>
<line x1="417.4" y1="1402.6" x2="673.3" y2="1402.6" stroke="#d4d4d4" stroke-width="1"/>
<line x1="417.4" y1="1416.1" x2="673.3" y2="1416.1" stroke="#d4d4d4" stroke-width="1"/>
<line x1="417.4" y1="1429.2" x2="673.3" y2="1429.2" stroke="#d4d4d4" stroke-width="1"/>
<line x1="485.2" y1="1339.6" x2="485.2" y2="1442.3" stroke="#c8c8c8" stroke-width="1"/>
<line x1="547.4" y1="1339.6" x2="547.4" y2="1442.3" stroke="#c8c8c8" stroke-width="1"/>
<line x1="605.6" y1="1339.6" x2="605.6" y2="1442.3" stroke="#c8c8c8" stroke-width="1"/>
<rect x="417.4" y="1339.6" width="255.9" height="102.7" fill="none" stroke="#333" stroke-width="1.2"/>
<text x="420.7" y="1349" font-size="8.6" fill="#383838" letter-spacing="0.15">Model</text>
<text x="488.5" y="1349" font-size="8.6" fill="#383838" letter-spacing="0.15">Log2P1</text>
<text x="420.7" y="1361.7" font-size="8.6" fill="#383838" letter-spacing="0.15">Equation</text>
<text x="488.5" y="1361.7" font-size="8.6" fill="#383838" letter-spacing="0.15">y = b*ln(x-a)</text>
<text x="420.7" y="1374.4" font-size="8.6" fill="#383838" letter-spacing="0.15">Reduced</text>
<text x="420.7" y="1385.4" font-size="8.6" fill="#383838" letter-spacing="0.15">Chi-Sqr</text>
<text x="543.2" y="1374.4" font-size="8.6" fill="#383838" letter-spacing="0.15" text-anchor="end">2.39486E-17</text>
<text x="420.7" y="1398.9" font-size="8.6" fill="#383838" letter-spacing="0.15">Adj. R-Square</text>
<text x="543.2" y="1398.9" font-size="8.6" fill="#383838" letter-spacing="0.15" text-anchor="end">0.96521</text>
<text x="550.7" y="1412" font-size="8.6" fill="#383838" letter-spacing="0.15">Value</text>
<text x="608.9" y="1412" font-size="8.6" fill="#383838" letter-spacing="0.15">Standard Error</text>
<text x="488.5" y="1425.5" font-size="8.6" fill="#383838" letter-spacing="0.15">a</text>
<text x="601.4" y="1425.5" font-size="8.6" fill="#383838" letter-spacing="0.15" text-anchor="end">-1.25103</text>
<text x="669.1" y="1425.5" font-size="8.6" fill="#383838" letter-spacing="0.15" text-anchor="end">0.04969</text>
<text x="488.5" y="1438.6" font-size="8.6" fill="#383838" letter-spacing="0.15">b</text>
<text x="601.4" y="1438.6" font-size="8.6" fill="#383838" letter-spacing="0.15" text-anchor="end">1.37672E-7</text>
<text x="669.1" y="1438.6" font-size="8.6" fill="#383838" letter-spacing="0.15" text-anchor="end">9.15631E-9</text>
<polygon points="178.24,1396.94 184.74,1403.24 178.24,1409.54 171.74,1403.24" fill="#000"/>
<polygon points="207.61,1331.75 214.11,1338.05 207.61,1344.35 201.11,1338.05" fill="#000"/>
<polygon points="325.08,1291.63 331.58,1297.93 325.08,1304.23 318.58,1297.93" fill="#000"/>
<polygon points="442.55,1165.01 449.05,1171.31 442.55,1177.61 436.05,1171.31" fill="#000"/>
<polygon points="618.76,1059.18 625.26,1065.48 618.76,1071.78 612.26,1065.48" fill="#000"/>
<polyline points="177.74,1392.59 183.24,1387.48 188.75,1382.41 194.26,1377.37 199.76,1372.37 205.27,1367.4 210.78,1362.47 216.28,1357.57 221.79,1352.7 227.3,1347.87 232.8,1343.07 238.31,1338.3 243.82,1333.57 249.32,1328.86 254.83,1324.19 260.34,1319.54 265.84,1314.93 271.35,1310.35 276.86,1305.79 282.36,1301.26 287.87,1296.77 293.38,1292.3 298.88,1287.86 304.39,1283.45 309.9,1279.06 315.4,1274.7 320.91,1270.37 326.42,1266.06 331.92,1261.78 337.43,1257.52 342.93,1253.29 348.44,1249.09 353.95,1244.91 359.45,1240.75 364.96,1236.62 370.47,1232.52 375.97,1228.43 381.48,1224.37 386.99,1220.33 392.49,1216.32 398,1212.33 403.51,1208.35 409.01,1204.41 414.52,1200.48 420.03,1196.58 425.53,1192.69 431.04,1188.83 436.55,1184.99 442.05,1181.17 447.56,1177.37 453.07,1173.59 458.57,1169.83 464.08,1166.08 469.59,1162.36 475.09,1158.66 480.6,1154.98 486.11,1151.32 491.61,1147.67 497.12,1144.04 502.63,1140.44 508.13,1136.85 513.64,1133.27 519.15,1129.72 524.65,1126.18 530.16,1122.67 535.67,1119.16 541.17,1115.68 546.68,1112.21 552.19,1108.76 557.69,1105.33 563.2,1101.91 568.71,1098.51 574.21,1095.12 579.72,1091.76 585.22,1088.4 590.73,1085.07 596.24,1081.74 601.74,1078.44 607.25,1075.15 612.76,1071.87 618.26,1068.61" fill="none" stroke="#f00" stroke-width="1.75" stroke-linejoin="round"/>
</svg>
</body></html>
